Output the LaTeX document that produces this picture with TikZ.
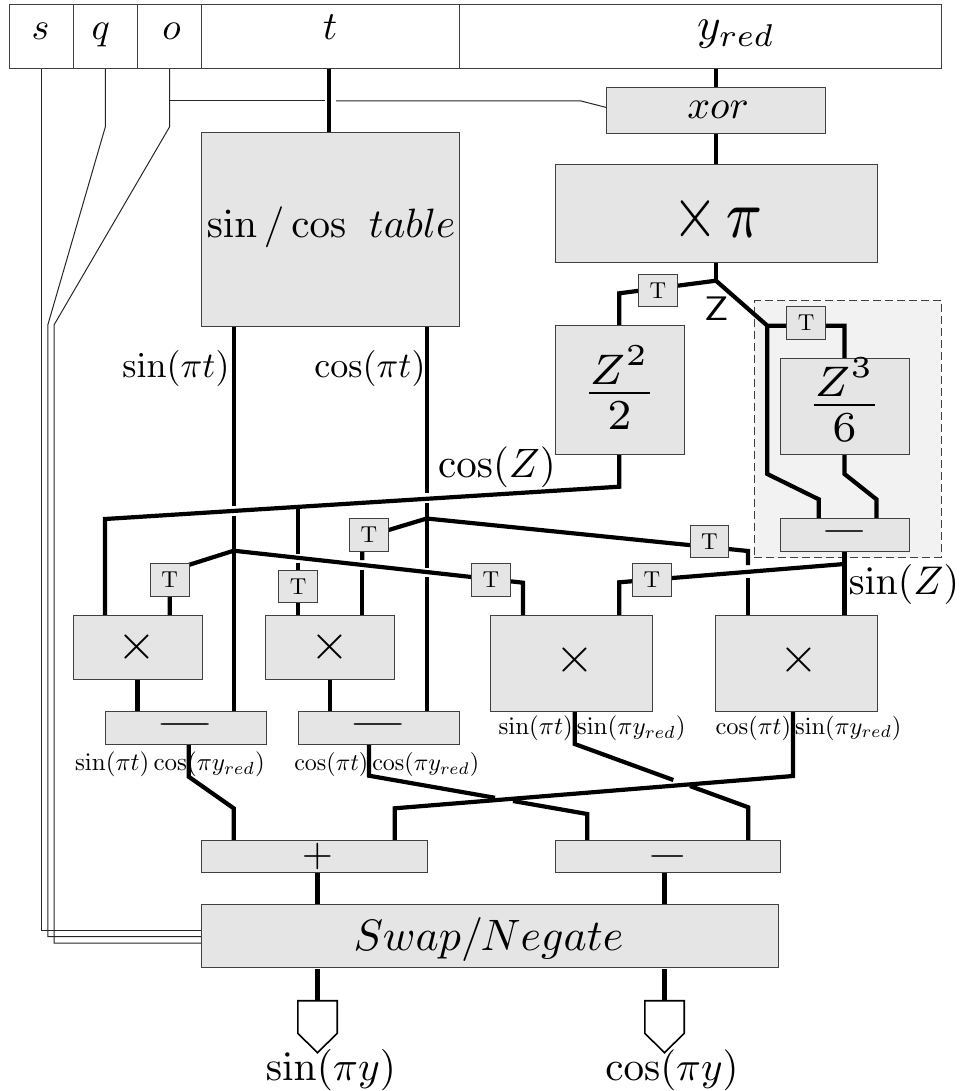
\documentclass[tikz,border=0pt]{standalone}
\usepackage{graphicx}
\pgfdeclarelayer{backdrop}
\pgfdeclarelayer{wires}
\pgfsetlayers{backdrop,wires,main}
\newcommand{\tmark}{\scalebox{2.3}{T}}
\tikzset{
  box/.style={draw=black!75,line width=1pt,fill=black!10,inner sep=0pt,outer sep=0pt},
  hdr/.style={draw=black!75,line width=1pt,fill=white,inner sep=0pt,outer sep=0pt},
  tbox/.style={box,minimum width=38.8pt,minimum height=32.4pt},
  lab/.style={inner sep=0pt,outer sep=0pt,anchor=base},
  bus/.style={line width=4.2pt,line join=miter,line cap=butt,black},
  thin wire/.style={line width=1pt,black!85,line join=miter},
  outp/.style={draw=black,line width=1.6pt,fill=white,line join=miter}
}
\begin{document}
\begin{tikzpicture}[x=1pt,y=-1pt]
\useasboundingbox (0,0) rectangle (960,1091);
% header
\node[hdr,minimum width=64.3pt,minimum height=64.2pt] (hs) at (41.15,36.6) {};
\node[hdr,minimum width=64.3pt,minimum height=64.2pt] (hq) at (105.45,36.6) {};
\node[hdr,minimum width=64.1pt,minimum height=64.2pt] (ho) at (169.65,36.6) {};
\node[hdr,minimum width=257.3pt,minimum height=64.2pt] (ht) at (330.35,36.6) {};
\node[hdr,minimum width=482pt,minimum height=64.2pt] (hy) at (700,36.6) {};
\node[lab,scale=3.8] (ls) at (40.5,40) {$s$};
\node[lab,scale=3.8] (lq) at (100.7,40) {$q$};
\node[lab,scale=3.8] (lo) at (171.5,40) {$o$};
\node[lab,scale=4] (lt) at (330,40) {$t$};
\node[lab,scale=4.5] (ly) at (736,40) {$y_{red}$};
% boxes
\node[box,minimum width=219pt,minimum height=45.2pt] (xor) at (716,110.6) {};
\node[lab,scale=4] (lxor) at (718,118.3) {$xor$};
\node[box,minimum width=322pt,minimum height=97pt] (mpi) at (716,213.5) {};
\node[lab,xscale=5.9,yscale=7.5] (lmpi) at (718,237) {$\times\mskip2mu\scalebox{1.3}{$\scriptstyle\pi$}$};
\node[box,minimum width=257.3pt,minimum height=193pt] (tab) at (330.35,229.5) {};
\node[lab,scale=4.1] (ltab) at (331,237.3) {$\sin/\cos\ \mskip1mu table$};
\node[box,minimum width=129pt,minimum height=129pt] (zz) at (619.5,390.2) {};
\node[lab,scale=6.1] (lzz) at (619.5,408.3) {$\frac{Z^2}{2}$};
\node[box,minimum width=129pt,minimum height=96.7pt] (zc) at (844.5,406.35) {};
\node[lab,scale=6.1] (lzc) at (844.5,420.3) {$\frac{Z^3}{6}$};
\node[box,minimum width=129pt,minimum height=32.3pt] (zsub) at (844.5,534.85) {};
\node[lab,xscale=6.2,yscale=4] (lzsub) at (844.5,541.7) {$-$};
\node[box,minimum width=129pt,minimum height=64.7pt] (ma) at (137.5,647.35) {};
\node[lab,scale=5] (lma) at (137.3,659.8) {$\times$};
\node[box,minimum width=129pt,minimum height=64.7pt] (mb) at (330.2,647.35) {};
\node[lab,scale=5] (lmb) at (330.3,659.8) {$\times$};
\node[box,minimum width=161.3pt,minimum height=96.7pt] (mc) at (571.35,663.35) {};
\node[lab,scale=5] (lmc) at (574.7,672.5) {$\times$};
\node[box,minimum width=161.3pt,minimum height=96.7pt] (md) at (796.35,663.35) {};
\node[lab,scale=5] (lmd) at (799.3,672.5) {$\times$};
\node[box,minimum width=160.7pt,minimum height=32.7pt] (se) at (185.65,727.65) {};
\node[lab,xscale=7.9,yscale=4] (lse) at (185.7,734.3) {$-$};
\node[box,minimum width=161pt,minimum height=32.7pt] (sf) at (378.5,727.65) {};
\node[lab,xscale=7.9,yscale=4] (lsf) at (378.7,734.3) {$-$};
\node[box,minimum width=225.3pt,minimum height=32.2pt] (add) at (314.35,856.4) {};
\node[lab,scale=4] (ladd) at (317.5,866.3) {$+$};
\node[box,minimum width=225.5pt,minimum height=32.4pt] (sub) at (667.75,856.3) {};
\node[lab,xscale=5.2,yscale=4] (lsub) at (667.7,866) {$-$};
\node[box,minimum width=576.3pt,minimum height=63.7pt] (swap) at (489.85,936.1) {};
\node[lab,scale=4.4] (lswap) at (488.5,950) {$Swap/Negate$};
% T boxes
\node[tbox] (t1) at (658,290.5) {\tmark};
\node[tbox] (t2) at (806.1,322.85) {\tmark};
\node[tbox] (t3) at (169.7,579.85) {\tmark};
\node[tbox] (t4) at (298.2,586.4) {\tmark};
\node[tbox] (t5) at (368.8,534.85) {\tmark};
\node[tbox] (t6) at (490.8,579.85) {\tmark};
\node[tbox] (t7) at (709.5,541.5) {\tmark};
\node[tbox] (t8) at (651.8,579.85) {\tmark};
% labels
\node[lab,scale=3.6] (lsinpt) at (176,377.7) {$\sin(\pi t)$};
\node[lab,scale=3.6] (lcospt) at (370,377) {$\cos(\pi t)$};
\node[lab,scale=4.1] (lcosz) at (497,477.3) {$\cos(Z)$};
\node[lab,scale=4] (lsinz) at (904,594.5) {$\sin(Z)$};
\node[lab,xscale=4,yscale=3.4] (lz) at (717,320) {\sffamily Z};
\node[lab,scale=2.5] (lpe) at (170,770.5) {$\sin(\pi t)\cos(\pi y_{red})$};
\node[lab,scale=2.4] (lpf) at (386.7,770.5) {$\cos(\pi t)\cos(\pi y_{red})$};
\node[lab,scale=2.5] (lpc) at (592,734.3) {$\sin(\pi t)\sin(\pi y_{red})$};
\node[lab,scale=2.45] (lpd) at (808.5,734.3) {$\cos(\pi t)\sin(\pi y_{red})$};
\node[lab,scale=4.15] (lsiny) at (331,1080) {$\sin(\pi y)$};
\node[lab,scale=4.1] (lcosy) at (672,1080) {$\cos(\pi y)$};
% coordinates
\coordinate (jz) at (716,280.7);
\coordinate (z2b) at (619.3,293.3);
\coordinate (z3l) at (767.3,325.7);
\coordinate (z3r) at (844.5,325.7);
\coordinate (z3lb) at (767.3,474);
\coordinate (z3la) at (818.7,499.3);
\coordinate (z3rb) at (844.5,474);
\coordinate (z3ra) at (876.4,499.3);
\coordinate (cb) at (619.3,486.7);
\coordinate (cbl) at (105,519);
\coordinate (js) at (233.7,550.7);
\coordinate (jc) at (426.7,518.5);
\coordinate (ls1) at (169.7,571);
\coordinate (lsr) at (523,582.7);
\coordinate (lcl) at (362.3,538);
\coordinate (lcr) at (748,551);
\coordinate (jsz) at (844.5,564);
\coordinate (lzb) at (619.3,582.3);
\coordinate (oj) at (169.5,101);
\coordinate (obend) at (581,101);
\coordinate (oin) at (606.5,107.5);
\coordinate (qb) at (105.3,127);
\coordinate (qc) at (47.8,325);
\coordinate (qd) at (47.8,936.7);
\coordinate (ob) at (169.5,127);
\coordinate (oc) at (54,325);
\coordinate (od) at (54,943);
\coordinate (sd) at (41,930);
\coordinate (eb) at (188.7,776.7);
\coordinate (ec) at (233.7,808.3);
\coordinate (fb) at (369,775.7);
\coordinate (fc) at (587.3,814);
\coordinate (cb2) at (574.7,744);
\coordinate (cc2) at (748.3,807.3);
\coordinate (db) at (793,776);
\coordinate (dc) at (394.7,808.3);
\coordinate (psin) at (317.5,1000.7);
\coordinate (pcos) at (664.5,1000.7);
% wires
\begin{pgfonlayer}{backdrop}
\node[draw=black!75,dash pattern=on 8pt off 4pt,line width=1pt,fill=black!5,inner sep=0pt,minimum width=186.7pt,minimum height=256.8pt] (zbg) at (847.65,429.1) {};
\end{pgfonlayer}
\begin{pgfonlayer}{wires}
% thin
\draw[thin wire] (41,68.7) -- (sd) -- (sd -| swap.west);
\draw[thin wire] (hq.south) -- (qb) -- (qc) -- (qd) -- (qd -| swap.west);
\draw[thin wire] (ho.south) -- (ob) -- (oc) -- (od) -- (od -| swap.west);
\draw[thin wire] (oj) -- (325,101);
\draw[thin wire] (336,101) -- (obend) -- (oin);
% top
\draw[bus] (329,68.7) -- (329,133);
\draw[bus] (716,68.7) -- (xor.north);
\draw[bus] (xor.south) -- (mpi.north);
\draw[bus] (mpi.south) -- (jz);
\draw[bus] (jz) -- (z2b) -- (z2b |- zz.north);
\draw[bus] (jz) -- (z3l) -- (z3r) -- (zc.north);
\draw[bus] (z3l) -- (z3lb) -- (z3la) -- (z3la |- zsub.north);
\draw[bus] (zc.south) -- (z3rb) -- (z3ra) -- (z3ra |- zsub.north);
\draw[bus] (zsub.south) -- (zsub.south |- mc.north);
\draw[bus] (jsz) -- (lzb) -- (lzb |- mc.north);
\draw[bus] (cb |- zz.south) -- (cb) -- (cbl) -- (cbl |- ma.north);
% sin pi t
\draw[bus] (233.7,326) -- (233.7,506);
\draw[bus] (233.7,516) -- (233.7,711.3);
% cos pi t
\draw[bus] (426.7,326) -- (426.7,493);
\draw[bus] (426.7,503) -- (426.7,568);
\draw[bus] (426.7,577) -- (426.7,711.3);
\draw[bus] (ls1 |- ma.north) -- (ls1) -- (js) -- (lsr) -- (lsr |- mc.north);
\draw[bus] (lcl |- mb.north) -- (362.3,570);
\draw[bus] (362.3,560) -- (lcl) -- (jc) -- (lcr) -- (748,565);
\draw[bus] (748,578) -- (748,615);
\draw[bus] (298,506.8) -- (298,554);
\draw[bus] (298,563) -- (298,615);
% x to -
\draw[bus] (ma.south) -- (ma.south |- se.north);
\draw[bus] (mb.south) -- (mb.south |- sf.north);
% to +/-
\draw[bus] (eb |- se.south) -- (eb) -- (ec) -- (ec |- add.north);
\draw[bus] (fb |- sf.south) -- (fb) -- (495,797.8);
\draw[bus] (513,801) -- (fc) -- (fc |- sub.north);
\draw[bus] (cb2 |- mc.south) -- (cb2) -- (673.3,780);
\draw[bus] (690,786) -- (cc2) -- (cc2 |- sub.north);
\draw[bus] (db |- md.south) -- (db) -- (dc) -- (dc |- add.north);
\draw[bus] (psin |- add.south) -- (psin |- swap.north);
\draw[bus] (pcos |- sub.south) -- (pcos |- swap.north);
\draw[bus] (317.5,969) -- (psin);
\draw[bus] (664.5,969) -- (pcos);
\end{pgfonlayer}
% outputs
\draw[outp] (psin) ++(-19.7,0) -- ++(39.4,0) -- ++(0,32.6) -- ++(-19.7,19.4) -- ++(-19.7,-19.4) -- cycle;
\draw[outp] (pcos) ++(-19.7,0) -- ++(39.4,0) -- ++(0,32.6) -- ++(-19.7,19.4) -- ++(-19.7,-19.4) -- cycle;
\end{tikzpicture}
\end{document}
